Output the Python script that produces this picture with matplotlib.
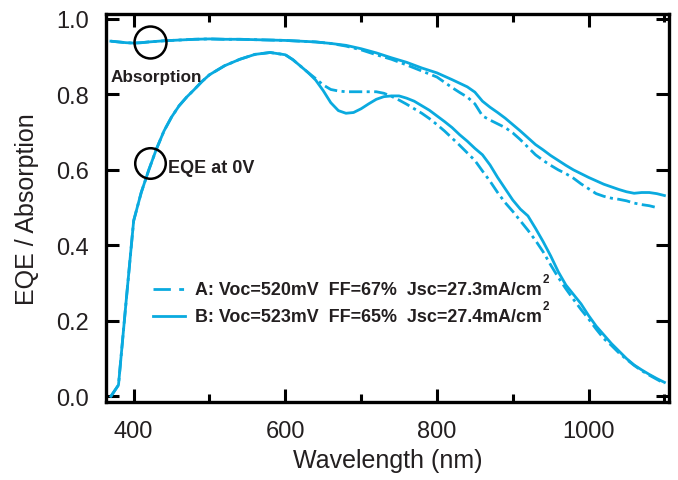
import matplotlib
matplotlib.use("Agg")
import matplotlib.pyplot as plt
import numpy as np

plt.rcParams['font.family'] = ['Liberation Sans', 'DejaVu Sans']
plt.rcParams['lines.scale_dashes'] = False

# ---- data ----
wl_eqe_b = [370, 380, 390, 400, 410, 420, 430, 440, 450, 460, 470, 480, 490, 500,
            520, 540, 560, 580, 600, 610, 620, 630, 640, 650, 660, 670, 680, 690,
            700, 710, 720, 730, 740, 750, 760, 770, 780, 790, 800, 810, 820, 830,
            840, 850, 860, 870, 880, 890, 900, 910, 920, 930, 940, 950, 960, 970,
            980, 990, 1000, 1010, 1020, 1030, 1040, 1050, 1060, 1070, 1080, 1090, 1100]
eqe_b = [0.0, 0.03, 0.25, 0.465, 0.54, 0.60, 0.655, 0.703, 0.74, 0.77, 0.793, 0.813, 0.834, 0.852,
         0.876, 0.893, 0.906, 0.911, 0.905, 0.892, 0.875, 0.858, 0.838, 0.81, 0.778, 0.757, 0.75, 0.752,
         0.762, 0.775, 0.787, 0.794, 0.796, 0.796, 0.79, 0.782, 0.77, 0.758, 0.743, 0.728, 0.712, 0.693,
         0.676, 0.657, 0.64, 0.613, 0.58, 0.55, 0.52, 0.496, 0.478, 0.445, 0.41, 0.372, 0.33, 0.295,
         0.27, 0.245, 0.214, 0.186, 0.163, 0.14, 0.12, 0.1, 0.083, 0.07, 0.058, 0.047, 0.037]

wl_eqe_a = [370, 380, 390, 400, 410, 420, 430, 440, 450, 460, 470, 480, 490, 500,
            520, 540, 560, 580, 600, 610, 620, 630, 640, 650, 660, 670, 680, 700,
            720, 730, 740, 750, 760, 770, 780, 790, 800, 810, 820, 830, 840, 850,
            860, 870, 880, 890, 900, 910, 920, 930, 940, 950, 960, 970, 980, 990,
            1000, 1010, 1020, 1030, 1040, 1050, 1060, 1070, 1080, 1090, 1100]
eqe_a = [0.0, 0.03, 0.25, 0.465, 0.54, 0.60, 0.655, 0.703, 0.74, 0.77, 0.793, 0.813, 0.834, 0.852,
         0.876, 0.893, 0.906, 0.911, 0.905, 0.892, 0.875, 0.858, 0.842, 0.825, 0.813, 0.809, 0.807, 0.807,
         0.807, 0.803, 0.795, 0.785, 0.774, 0.762, 0.75, 0.736, 0.72, 0.703, 0.684, 0.665, 0.645, 0.625,
         0.597, 0.57, 0.54, 0.513, 0.49, 0.465, 0.44, 0.413, 0.383, 0.348, 0.315, 0.285, 0.257, 0.23,
         0.205, 0.178, 0.153, 0.135, 0.115, 0.098, 0.082, 0.068, 0.056, 0.045, 0.034]

wl_abs_b = [370, 380, 390, 400, 410, 420, 440, 460, 480, 500, 520, 540, 560, 580, 600, 620,
            640, 660, 680, 700, 720, 740, 760, 780, 800, 820, 840, 850, 860, 870, 880, 890,
            900, 910, 920, 930, 940, 950, 960, 970, 980, 990, 1000, 1010, 1020, 1030, 1040,
            1050, 1060, 1070, 1080, 1090, 1100]
abs_b = [0.941, 0.939, 0.937, 0.936, 0.937, 0.939, 0.942, 0.944, 0.946, 0.947, 0.946, 0.946, 0.945,
         0.944, 0.943, 0.941, 0.939, 0.935, 0.93, 0.921, 0.91, 0.897, 0.885, 0.87, 0.857, 0.839,
         0.82, 0.806, 0.782, 0.766, 0.752, 0.737, 0.72, 0.703, 0.685, 0.667, 0.653, 0.638, 0.625,
         0.612, 0.6, 0.59, 0.58, 0.571, 0.562, 0.555, 0.548, 0.542, 0.538, 0.54, 0.54, 0.537, 0.532]

wl_abs_a = [370, 380, 390, 400, 410, 420, 440, 460, 480, 500, 520, 540, 560, 580, 600, 620,
            640, 660, 680, 700, 720, 740, 760, 780, 800, 820, 830, 840, 850, 860, 870, 880,
            890, 900, 910, 920, 930, 940, 950, 960, 970, 980, 990, 1000, 1010, 1020, 1030,
            1040, 1050, 1060, 1070, 1080, 1090]
abs_a = [0.941, 0.939, 0.937, 0.936, 0.937, 0.939, 0.942, 0.944, 0.946, 0.947, 0.946, 0.946, 0.945,
         0.944, 0.943, 0.941, 0.939, 0.935, 0.928, 0.918, 0.905, 0.893, 0.878, 0.862, 0.846, 0.818,
         0.805, 0.793, 0.775, 0.743, 0.732, 0.722, 0.712, 0.698, 0.68, 0.66, 0.64, 0.625, 0.612,
         0.6, 0.59, 0.578, 0.563, 0.55, 0.537, 0.53, 0.525, 0.522, 0.518, 0.512, 0.508, 0.505, 0.5]

legend_labels = ["A: Voc=520mV  FF=67%  Jsc=27.3mA/cm",
                 "B: Voc=523mV  FF=65%  Jsc=27.4mA/cm"]
x_ticks = [400, 600, 800, 1000]
y_ticks = [0.0, 0.2, 0.4, 0.6, 0.8, 1.0]

# ---- styling ----
blue = '#0AAADF'
dashdot = (0, (9.5, 3.2, 2.2, 3.2))
legend_dashdot = (0, (12.5, 6, 3.5, 6))
txt_col = '#231F20'
lw = 2.0

fig = plt.figure(figsize=(6.78, 4.81), dpi=100)
ax = fig.add_axes([0.1563, 0.1622, 0.8304, 0.8066])

ax.plot(wl_abs_b, abs_b, color=blue, lw=lw, solid_joinstyle='round')
ax.plot(wl_abs_a, abs_a, color=blue, lw=lw, linestyle=dashdot)
ax.plot(wl_eqe_b, eqe_b, color=blue, lw=lw, solid_joinstyle='round')
ax.plot(wl_eqe_a, eqe_a, color=blue, lw=lw, linestyle=dashdot)

ax.set_xlim(363.5, 1106)
ax.set_ylim(-0.015, 1.013)
ax.set_xticks(x_ticks)
ax.set_xticks([500, 700, 900, 1100], minor=True)
ax.set_yticks(y_ticks)
ax.set_yticklabels([f"{v:.1f}" for v in y_ticks])

for s in ax.spines.values():
    s.set_linewidth(2.4)
    s.set_color('black')
ax.tick_params(which='both', direction='in', top=True, right=True, width=2.2, color='black')
ax.tick_params(which='major', length=9.5, labelsize=17, labelcolor=txt_col)
ax.tick_params(which='minor', length=5.8)
ax.tick_params(axis='x', which='major', pad=13)
ax.tick_params(axis='y', which='major', pad=12.5)

ax.set_xlabel("Wavelength (nm)", fontsize=18, color=txt_col, labelpad=4)
ax.set_ylabel("EQE / Absorption", fontsize=18, color=txt_col, labelpad=12)

# circled markers and their labels
ax.plot([421.5], [0.938], marker='o', markersize=23, markerfacecolor='none',
        markeredgecolor='black', markeredgewidth=1.8, linestyle='none')
ax.plot([421.5], [0.618], marker='o', markersize=22, markerfacecolor='none',
        markeredgecolor='black', markeredgewidth=1.8, linestyle='none')
ax.text(0.0075, 0.828, "Absorption", transform=ax.transAxes, fontsize=12.3,
        fontweight='bold', color=txt_col, va='baseline', ha='left')
ax.text(0.111, 0.593, "EQE at 0V", transform=ax.transAxes, fontsize=13,
        fontweight='bold', color=txt_col, va='baseline', ha='left')

# legend drawn by hand
leg_rows = [(0.2912, 0.2784, legend_dashdot), (0.2224, 0.2095, '-')]
fig.canvas.draw()
renderer = fig.canvas.get_renderer()
for (ly, ty, ls), label in zip(leg_rows, legend_labels):
    ax.plot([0.0835, 0.1403], [ly, ly], transform=ax.transAxes, color=blue, lw=lw,
            linestyle=ls, clip_on=False)
    t = ax.text(0.158, ty, label, transform=ax.transAxes, fontsize=12.9,
                fontweight='bold', color=txt_col, va='baseline', ha='left')
    bb = t.get_window_extent(renderer=renderer)
    x_end = ax.transAxes.inverted().transform((bb.x1, bb.y0))[0]
    ax.text(x_end + 0.002, ty + 0.031, "2", transform=ax.transAxes, fontsize=8.5,
            fontweight='bold', color=txt_col, va='baseline', ha='left')

fig.savefig("out.png", dpi=100)
